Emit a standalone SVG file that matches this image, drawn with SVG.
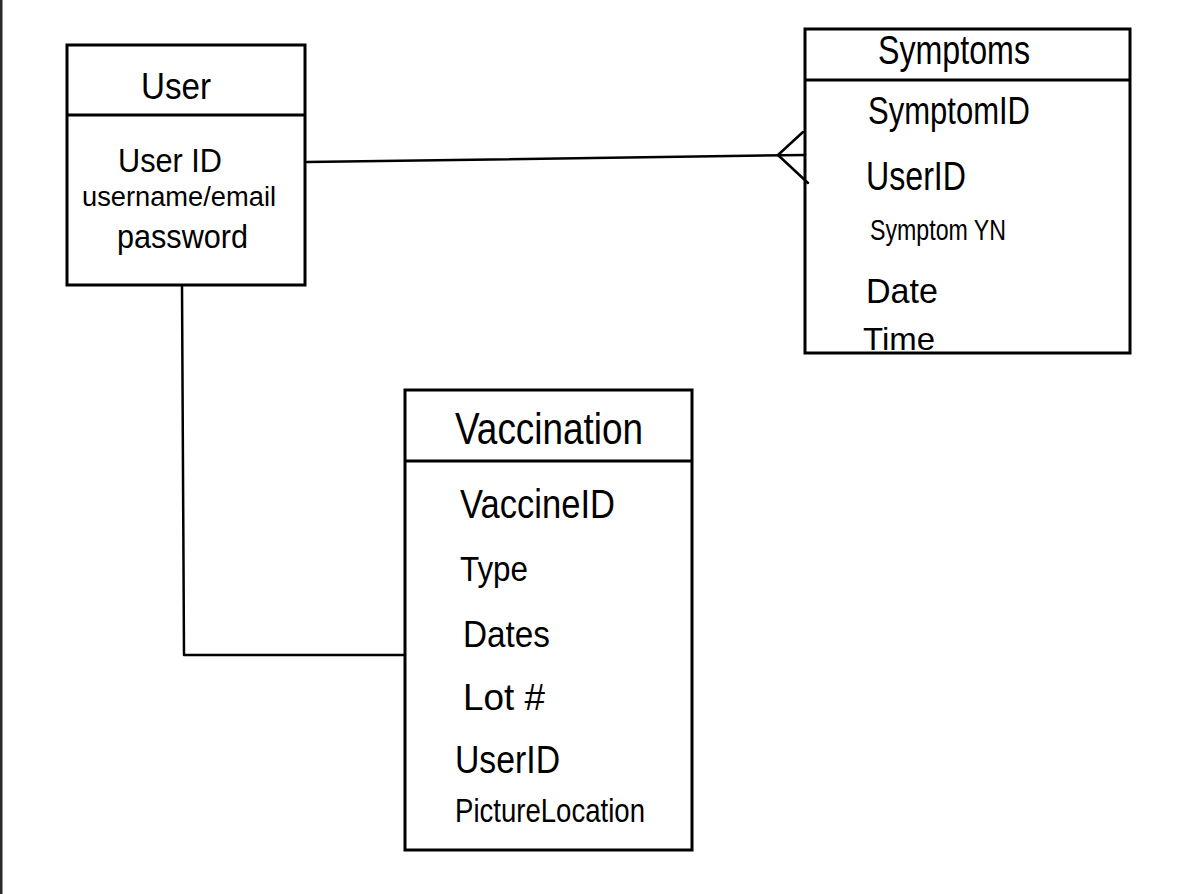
<svg xmlns="http://www.w3.org/2000/svg" width="1202" height="894" viewBox="0 0 1202 894">
<style>
.box{fill:none;stroke:#000;stroke-width:3}
.div{stroke:#000;stroke-width:3}
.con{fill:none;stroke:#000;stroke-width:2.5;stroke-linecap:round;stroke-linejoin:round}
.t{font-family:"Liberation Sans","DejaVu Sans",sans-serif;fill:#000}
</style>
<rect x="0" y="0" width="1202" height="894" fill="#ffffff"/>
<rect x="0" y="0" width="2.5" height="894" fill="#2a2a2a"/>
<g id="connectors">
<path class="con" d="M307,162 L805,155"/>
<path class="con" d="M778,155 L803,132 M778,155 L808,183"/>
<path class="con" d="M182,286 L184,655 L405,655"/>
</g>
<g id="user">
<rect class="box" x="67" y="45" width="238" height="240"/>
<line class="div" x1="67" y1="115" x2="305" y2="115"/>
<text class="t" font-size="37" x="141" y="99" textLength="70" lengthAdjust="spacingAndGlyphs">User</text>
<text class="t" font-size="33" x="118" y="172" textLength="104" lengthAdjust="spacingAndGlyphs">User ID</text>
<text class="t" font-size="27" x="82" y="206" textLength="194" lengthAdjust="spacingAndGlyphs">username/email</text>
<text class="t" font-size="33" x="117" y="248" textLength="131" lengthAdjust="spacingAndGlyphs">password</text>
</g>
<g id="symptoms">
<rect class="box" x="805" y="29" width="325" height="324"/>
<line class="div" x1="805" y1="80" x2="1130" y2="80"/>
<text class="t" font-size="41" x="878" y="64" textLength="152" lengthAdjust="spacingAndGlyphs">Symptoms</text>
<text class="t" font-size="38" x="868" y="124" textLength="162" lengthAdjust="spacingAndGlyphs">SymptomID</text>
<text class="t" font-size="40" x="866" y="190" textLength="100" lengthAdjust="spacingAndGlyphs">UserID</text>
<text class="t" font-size="30" x="870" y="240" textLength="136" lengthAdjust="spacingAndGlyphs">Symptom YN</text>
<text class="t" font-size="35" x="866" y="303" textLength="72" lengthAdjust="spacingAndGlyphs">Date</text>
<text class="t" font-size="32" x="863" y="350" textLength="72" lengthAdjust="spacingAndGlyphs">Time</text>
</g>
<g id="vaccination">
<rect class="box" x="405" y="390" width="287" height="460"/>
<line class="div" x1="405" y1="461" x2="692" y2="461"/>
<text class="t" font-size="45" x="455" y="444" textLength="188" lengthAdjust="spacingAndGlyphs">Vaccination</text>
<text class="t" font-size="41" x="460" y="518" textLength="155" lengthAdjust="spacingAndGlyphs">VaccineID</text>
<text class="t" font-size="35" x="460" y="581" textLength="68" lengthAdjust="spacingAndGlyphs">Type</text>
<text class="t" font-size="37" x="463" y="647" textLength="87" lengthAdjust="spacingAndGlyphs">Dates</text>
<text class="t" font-size="37" x="463" y="710" textLength="82" lengthAdjust="spacingAndGlyphs">Lot #</text>
<text class="t" font-size="39" x="455" y="773" textLength="105" lengthAdjust="spacingAndGlyphs">UserID</text>
<text class="t" font-size="33" x="455" y="822" textLength="190" lengthAdjust="spacingAndGlyphs">PictureLocation</text>
</g>
</svg>
